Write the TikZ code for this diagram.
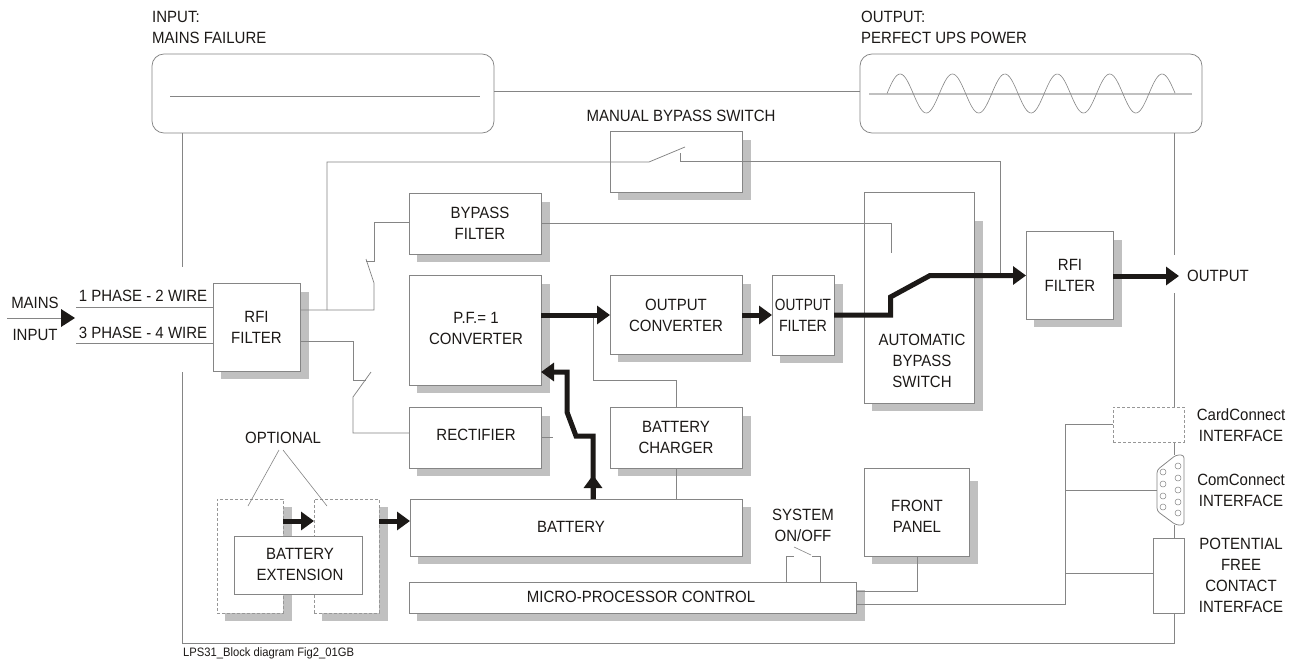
\documentclass[tikz,border=0pt]{standalone}
\usepackage{fontspec}
\setmainfont[FakeStretch=0.92]{Liberation Sans}
\usetikzlibrary{arrows.meta}
\definecolor{ln}{HTML}{858585}
\definecolor{sh}{HTML}{C0C0C0}
\definecolor{ink}{HTML}{1C1917}
\newcommand{\ubox}[7][solidbox]{%
  \fill[sh] (#3+8,#4+#7) rectangle (#5+9,#6+8);
  \node[#1,anchor=north west,minimum width={(#5-#3)*1pt},minimum height={(#6-#4)*1pt}] (#2) at (#3,#4) {};}
\tikzset{
  solidbox/.style={draw=ln,fill=white,line width=0.75pt,inner sep=0pt,outer sep=0pt},
  dashbox/.style={solidbox,draw=ln!85,dash pattern=on 3pt off 2pt},
  wire/.style={draw=ln,line width=0.75pt},
  power/.style={draw=ink,line width=5pt,line join=miter},
  powerarrow/.style={power,-{Triangle[length=13pt,width=18pt]}},
  label/.style={text=ink,font=\fontsize{16.3}{21}\selectfont,align=center,inner sep=0pt},
  leftlabel/.style={label,align=left,anchor=west},
  footer/.style={text=ink,font=\fontsize{12.2}{12}\selectfont,inner sep=0pt,anchor=west}
}
\begin{document}
\begin{tikzpicture}[x=1pt,y=-1pt]
\useasboundingbox (0,0) rectangle (1297,662);
\fill[white] (0,0) rectangle (1297,662);
% boxes
\ubox{rfia}{213}{283}{300}{371}{9}
\ubox{bypf}{409}{193}{541}{254}{9}
\ubox{conv}{409}{275}{541}{385}{9}
\ubox{rect}{409}{407}{541}{468}{9}
\ubox{manual}{610}{131}{742}{192}{9}
\ubox{outc}{610}{275}{742}{354}{9}
\ubox{outf}{772}{275}{834}{355}{9}
\ubox{charger}{610}{407}{742}{468}{9}
\ubox{autob}{864}{192}{974}{403}{29}
\ubox{rfib}{1026}{231}{1113}{319}{9}
\ubox{batt}{410}{499}{742}{556}{8}
\ubox{micro}{409}{582}{856}{613}{8}
\ubox{front}{864}{468}{969}{556}{13}
\ubox[dashbox]{ext1}{217}{499}{283}{613}{8}
\ubox[dashbox]{ext2}{314}{499}{379}{613}{8}
\node[solidbox,anchor=north west,minimum width=128pt,minimum height=58pt] (extn) at (234,536) {};
% top rounded boxes
\node[solidbox,rounded corners=12pt,anchor=north west,minimum width=342pt,minimum height=79pt] (inbox) at (152,54) {};
\node[solidbox,rounded corners=12pt,anchor=north west,minimum width=342pt,minimum height=79pt] (outbox) at (860,54) {};
\coordinate (inl) at (170,96); \coordinate (inr) at (480,96);
\draw[wire] (inl) -- (inr);
\coordinate (outl) at (869,94); \coordinate (outr) at (1192,94);
\draw[draw=sh,line width=1.4pt] (outl) -- (outr);
\draw[wire,line width=0.6pt,domain=0:5.5,samples=220] plot ({887+\x*52.4},{93.5-19.5*sin(360*\x)});
\coordinate (linkl) at (494,91); \coordinate (linkr) at (860,91);
\draw[wire] (linkl) -- (linkr);
% frame
\coordinate (fa) at (182.5,133); \coordinate (fb) at (182.5,267);
\coordinate (fc) at (182.5,372); \coordinate (fd) at (182.5,643);
\coordinate (fe) at (1174,643); \coordinate (ff) at (1174,133); \coordinate (fg) at (1174,255);
\coordinate (fh) at (1174,293);
\draw[wire] (fa) -- (fb);
\draw[wire] (fc) -- (fd) -- (fe) -- (1174,613);
\draw[wire] (ff) -- (fg);
\draw[wire] (fh) -- (1174,407);
\draw[wire] (1174,442) -- (1174,455);
\draw[wire] (1174,525) -- (1174,538);
% input
\coordinate (mstart) at (7,318); \coordinate (mtip) at (75,318);
\draw[wire] (mstart) -- (61,318);
\fill[ink] (61,309) -- (mtip) -- (61,327) -- cycle;
\coordinate (ph1) at (76,307); \coordinate (ph3) at (76,343);
\draw[wire] (ph1) -- (ph1 -| rfia.west);
\draw[wire] (ph3) -- (ph3 -| rfia.west);
% upper switch
\coordinate (j1) at (374,310); \coordinate (j2) at (374,283); \coordinate (j3) at (366,259);
\coordinate (j4) at (366,261); \coordinate (j5) at (374,261); \coordinate (j6) at (374,222);
\draw[wire] (j1 -| rfia.east) -- (j1) -- (j2) -- (j3);
\draw[wire] (j4) -- (j5) -- (j6) -- (j6 -| bypf.west);
% lower switch
\coordinate (k1) at (353,341); \coordinate (k2) at (353,380); \coordinate (k3) at (366,380);
\coordinate (k4) at (371,372); \coordinate (k5) at (353,397); \coordinate (k6) at (353,433);
\draw[wire] (k1 -| rfia.east) -- (k1) -- (k2) -- (k3);
\draw[wire] (k4) -- (k5) -- (k6) -- (k6 -| rect.west);
% manual bypass
\coordinate (m1) at (327,310); \coordinate (m2) at (327,162); \coordinate (m3) at (649,162);
\coordinate (m4) at (685,147); \coordinate (m5) at (680,153); \coordinate (m6) at (680,161);
\coordinate (m7) at (1000,161); \coordinate (m8) at (1000,273);
\draw[wire] (m1) -- (m2) -- (m3) -- (m4);
\draw[wire] (m5) -- (m6) -- (m7) -- (m8);
% bypass filter to auto bypass
\coordinate (b1) at (891,223); \coordinate (b2) at (891,253);
\draw[wire] (b1 -| bypf.east) -- (b1) -- (b2);
% rectifier stub
\coordinate (r1) at (553,437);
\draw[wire] (r1 -| rect.east) -- (r1);
% charger
\coordinate (c1) at (593,315); \coordinate (c2) at (593,380); \coordinate (c3) at (676,380);
\draw[wire] (c1) -- (c2) -- (c3) -- (charger.north);
\draw[wire] (charger.south) -- (batt.north -| charger.south);
% optional
\coordinate (o1) at (279,450); \coordinate (o2) at (248,506);
\coordinate (o3) at (283,450); \coordinate (o4) at (327,506);
\draw[wire,line width=0.6pt] (o1) -- (o2);
\draw[wire,line width=0.6pt] (o3) -- (o4);
% system on/off
\coordinate (s1) at (786,556); \coordinate (s2) at (794,556); \coordinate (s3) at (794,547);
\coordinate (s4) at (811,555); \coordinate (s5) at (812,556); \coordinate (s6) at (820,556);
\draw[wire] (s1 |- micro.north) -- (s1) -- (s2);
\draw[wire,line width=0.6pt] (s3) -- (s4);
\draw[wire] (s5) -- (s6) -- (s6 |- micro.north);
% front panel, interfaces
\coordinate (p1) at (917,591);
\draw[wire] (front.south -| p1) -- (p1) -- (p1 -| micro.east);
\node[dashbox,fill=white,anchor=north west,minimum width=71pt,minimum height=35pt] (card) at (1113,407) {};
\node[solidbox,anchor=north west,minimum width=31pt,minimum height=75pt] (pot) at (1153,538) {};
\coordinate (dsubw) at (1157,490);
\draw[wire,fill=white,rounded corners=3pt] (1157,470) -- (1176,455) -- (1184,455) -- (1184,525) -- (1176,525) -- (1157,511) -- cycle;
\foreach \yy in {466,478,490,502,513} \draw[wire,line width=0.5pt] (1178,\yy) circle (3);
\foreach \yy in {472,484,496,507} \draw[wire,line width=0.5pt] (1163,\yy) circle (3);
\coordinate (v1) at (1065,424); \coordinate (v2) at (1065,604); \coordinate (v3) at (1065,490); \coordinate (v4) at (1065,573);
\draw[wire] (v2 -| micro.east) -- (v2) -- (v1) -- (v1 -| card.west);
\draw[wire] (v3) -- (dsubw);
\draw[wire] (v4) -- (v4 -| pot.west);
% power paths
\coordinate (t1) at (593,436); \coordinate (t2) at (576,436); \coordinate (t3) at (567,412); \coordinate (t4) at (567,372);
\draw[powerarrow] (batt.north -| t1) -- (593,475);
\draw[powerarrow] (t1 |- batt.north) -- (t1) -- (t2) -- (t3) -- (t4) -- (t4 -| conv.east);
\coordinate (q1) at (541,315);
\draw[powerarrow] (conv.east |- q1) -- (q1 -| outc.west);
\draw[powerarrow] (outc.east |- q1) -- (q1 -| outf.west);
\coordinate (u1) at (890.5,315); \coordinate (u2) at (890.5,297); \coordinate (u3) at (930,275.5);
\draw[powerarrow] (outf.east |- q1) -- (u1) -- (u2) -- (u3) -- (u3 -| rfib.west);
\coordinate (w1) at (1179,276);
\draw[powerarrow] (rfib.east |- w1) -- (w1);
\coordinate (x1) at (283,521);
\draw[powerarrow] (ext1.east |- x1) -- (x1 -| ext2.west);
\draw[powerarrow] (ext2.east |- x1) -- (x1 -| batt.west);
% labels
\node[leftlabel] (tin) at (152,27.5) {INPUT:\\MAINS FAILURE};
\node[leftlabel] (tout) at (861,27.5) {OUTPUT:\\PERFECT UPS POWER};
\node[label] (tmanual) at (681,116) {MANUAL BYPASS SWITCH};
\node[label] (tmains) at (35,302.5) {MAINS};
\node[label] (tinput) at (35,335) {INPUT};
\node[label] (tph1) at (143,296) {1 PHASE - 2 WIRE};
\node[label] (tph3) at (143,333) {3 PHASE - 4 WIRE};
\node[label] (trfia) at (256.5,327) {RFI\\FILTER};
\node[label] (tbypf) at (480,223) {BYPASS\\FILTER};
\node[label] (tconv) at (476,328.5) {P.F.= 1\\CONVERTER};
\node[label] (tout1) at (676,315) {OUTPUT\\CONVERTER};
\node[label] (tout2) at (803,315) {\scalebox{0.91}[1]{OUTPUT}\\\scalebox{0.95}[1]{FILTER}};
\node[label] (tauto) at (922,360.5) {AUTOMATIC\\BYPASS\\SWITCH};
\node[label] (trfib) at (1070,275.5) {RFI\\FILTER};
\node[leftlabel] (toutput) at (1187,276) {OUTPUT};
\node[label] (trect) at (476,435) {RECTIFIER};
\node[label] (tcharger) at (676,437.5) {BATTERY\\CHARGER};
\node[label] (toptional) at (283,438) {OPTIONAL};
\node[label] (text) at (300,564.5) {BATTERY\\EXTENSION};
\node[label] (tbatt) at (571,527) {BATTERY};
\node[label] (tsys) at (803,525.5) {SYSTEM\\ON/OFF};
\node[label] (tfront) at (917,516.5) {FRONT\\PANEL};
\node[label] (tmicro) at (641,597) {MICRO-PROCESSOR CONTROL};
\node[label] (tcard) at (1241,425) {CardConnect\\INTERFACE};
\node[label] (tcom) at (1241,490) {ComConnect\\INTERFACE};
\node[label] (tpot) at (1241,575.5) {POTENTIAL\\FREE\\CONTACT\\INTERFACE};
\node[footer] (tfoot) at (183,653) {LPS31\_Block diagram Fig2\_01GB};
\end{tikzpicture}
\end{document}
